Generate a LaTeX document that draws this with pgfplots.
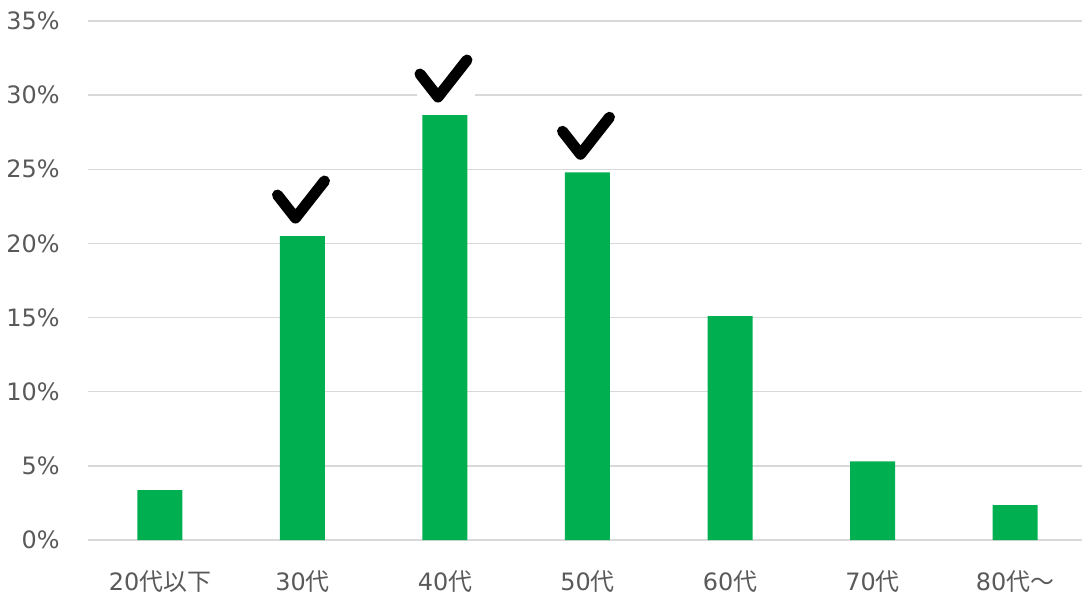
\documentclass[border=0pt]{standalone}
\usepackage{pgfplots}
\pgfplotsset{compat=1.18}
\usepackage{fontspec}
\setmainfont{DejaVu Sans}
\newfontfamily\cjk{Noto Sans CJK JP}

\definecolor{bargreen}{HTML}{00B050}
\definecolor{gridgray}{HTML}{D9D9D9}
\definecolor{labelgray}{HTML}{595959}

% heavy check mark, drawn above the data point
\pgfdeclareplotmark{chk}{%
  \pgfpathmoveto{\pgfpoint{-12.5bp}{20.5bp}}%
  \pgfpathlineto{\pgfpoint{-3.5bp}{9bp}}%
  \pgfpathlineto{\pgfpoint{11bp}{27.5bp}}%
  \pgfusepathqstroke}
% same, on a white patch (hides the gridline behind it)
\pgfdeclareplotmark{chkw}{%
  \begin{pgfscope}
    \pgfsetfillcolor{white}%
    \pgfpathrectangle{\pgfpoint{-14bp}{2bp}}{\pgfpoint{29bp}{30bp}}%
    \pgfusepath{fill}%
  \end{pgfscope}
  \pgfpathmoveto{\pgfpoint{-12.5bp}{20.5bp}}%
  \pgfpathlineto{\pgfpoint{-3.5bp}{9bp}}%
  \pgfpathlineto{\pgfpoint{11bp}{27.5bp}}%
  \pgfusepathqstroke}

\begin{document}
\begin{tikzpicture}
  \useasboundingbox (-44bp,-26.5bp) rectangle (497bp,270bp);
  \begin{axis}[
    scale only axis,
    width=497bp, height=259.5bp,
    xmin=-0.505, xmax=6.47,
    ymin=0, ymax=35,
    xtick={0,...,6},
    xticklabels={20{\cjk 代以下},30{\cjk 代},40{\cjk 代},50{\cjk 代},60{\cjk 代},70{\cjk 代},80{\cjk 代～}},
    ytick={0,5,...,35},
    yticklabels={0\%,5\%,10\%,15\%,20\%,25\%,30\%,35\%},
    tick style={draw=none},
    ymajorgrids,
    grid style={gridgray, line width=0.75bp},
    axis x line*=bottom,
    axis y line*=left,
    x axis line style={draw=gridgray, line width=0.75bp, -},
    y axis line style={draw=none},
    ticklabel style={font=\fontsize{12}{14}\selectfont, text=labelgray},
    yticklabel style={anchor=base east, inner sep=0pt, xshift=-14bp, yshift=-4.3bp},
    xticklabel style={anchor=base, inner sep=0pt, yshift=-25bp},
  ]
    \addplot[ybar, bar width=22.5bp, fill=bargreen, draw=none] coordinates {
      (0,3.37) (1,20.5) (2,28.66) (3,24.8) (4,15.1) (5,5.3) (6,2.36)
    };
    \addplot[only marks, mark=chk, mark options={black, line width=5.5bp, line cap=round, line join=round}]
      coordinates {(1,20.5) (3,24.8)};
    \addplot[only marks, mark=chkw, mark options={black, line width=5.5bp, line cap=round, line join=round}]
      coordinates {(2,28.66)};
  \end{axis}
\end{tikzpicture}
\end{document}
